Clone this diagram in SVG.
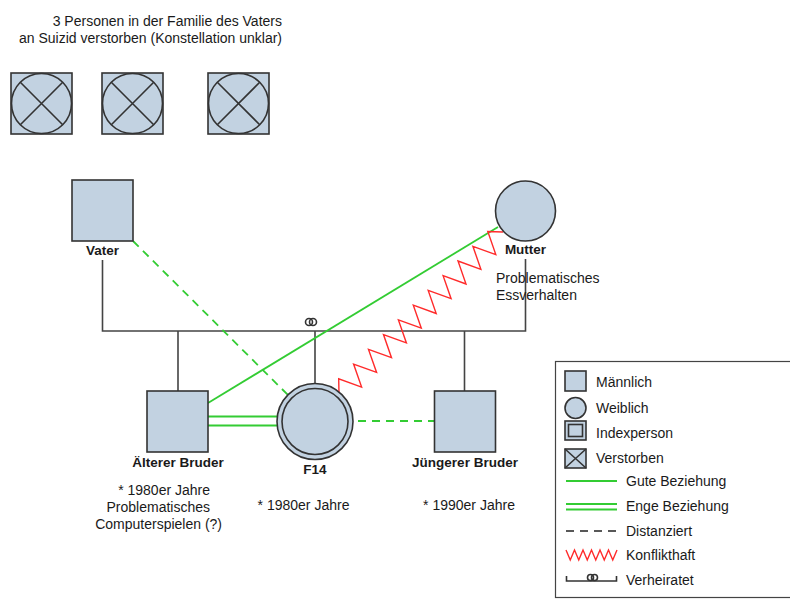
<svg xmlns="http://www.w3.org/2000/svg" width="790" height="599" viewBox="0 0 790 599">
<style>
  text { font-family: "Liberation Sans", Arial, sans-serif; font-size: 14px; fill: #1a1a1a; }
  .b { font-weight: bold; font-size: 13.5px; }
  .node { fill: #c2d2e1; stroke: #333; stroke-width: 1.6; }
  .fam { fill: none; stroke: #444; stroke-width: 1.6; }
  .thin { fill: none; stroke: #333; stroke-width: 1.6; }
  .good { fill: none; stroke: #33cc33; stroke-width: 1.8; }
  .dist { fill: none; stroke: #33cc33; stroke-width: 1.8; stroke-dasharray: 8 6; }
  .conf { fill: none; stroke: #ff2b2b; stroke-width: 1.4; stroke-linejoin: miter; }
</style>
<rect width="790" height="599" fill="#ffffff"/>

<g id="note">
  <text x="282" y="26" text-anchor="end">3 Personen in der Familie des Vaters</text>
  <text x="282" y="43" text-anchor="end">an Suizid verstorben (Konstellation unklar)</text>
</g>

<g id="deceased1">
  <rect class="node" x="11" y="73" width="61" height="61"/>
  <circle class="thin" cx="41.5" cy="103.5" r="30"/>
  <path class="thin" d="M20.3 82.3 L62.7 124.7 M62.7 82.3 L20.3 124.7"/>
</g>
<g id="deceased2">
  <rect class="node" x="102" y="73" width="61" height="61"/>
  <circle class="thin" cx="132.5" cy="103.5" r="30"/>
  <path class="thin" d="M111.3 82.3 L153.7 124.7 M153.7 82.3 L111.3 124.7"/>
</g>
<g id="deceased3">
  <rect class="node" x="208" y="73" width="61" height="61"/>
  <circle class="thin" cx="238.5" cy="103.5" r="30"/>
  <path class="thin" d="M217.3 82.3 L259.7 124.7 M259.7 82.3 L217.3 124.7"/>
</g>

<g id="connectors">
  <path class="fam" d="M102.5 260 V331 H525.5 V259"/>
  <path class="fam" d="M178 331 V391 M315 331 V383 M464.5 331 V391"/>
  <g id="marriage-symbol">
    <circle class="thin" cx="309" cy="322" r="3.5" stroke-width="1.5"/>
    <circle class="thin" cx="313" cy="322" r="3.5" stroke-width="1.5"/>
  </g>
  <line class="dist" x1="133" y1="241" x2="288" y2="395"/>
  <line class="good" x1="498" y1="227" x2="208" y2="403"/>
  <polyline class="conf" points="503,232 487.8,231.5 495.8,254.6 472.9,246.3 480.9,269.3 458,261 466,284 443.1,275.7 451.1,298.7 428.2,290.4 436.2,313.5 413.3,305.2 421.3,328.2 398.4,319.9 406.4,342.9 383.5,334.6 391.5,357.7 368.5,349.4 376.6,372.4 353.6,364.1 361.6,387.1 338.7,378.8 339,394"/>
  <path class="good" d="M208 416.5 H277 M208 425.5 H277"/>
  <line class="dist" x1="358" y1="421" x2="434" y2="421"/>
</g>

<g id="vater">
  <rect class="node" x="72" y="180" width="61" height="61"/>
  <text class="b" x="102.5" y="255" text-anchor="middle">Vater</text>
</g>

<g id="mutter">
  <circle class="node" cx="525.5" cy="211" r="30"/>
  <text class="b" x="525.5" y="254" text-anchor="middle">Mutter</text>
  <text x="496" y="283">Problematisches</text>
  <text x="496" y="300">Essverhalten</text>
</g>

<g id="aelterer-bruder">
  <rect class="node" x="147" y="391" width="61" height="61"/>
  <text class="b" x="178" y="467" text-anchor="middle">Älterer Bruder</text>
  <text x="210" y="495" text-anchor="end">* 1980er Jahre</text>
  <text x="210" y="512" text-anchor="end">Problematisches</text>
  <text x="222" y="529" text-anchor="end">Computerspielen (?)</text>
</g>

<g id="f14">
  <circle class="node" cx="315" cy="421.5" r="38"/>
  <circle class="node" cx="315" cy="421.5" r="33"/>
  <text class="b" x="315" y="474" text-anchor="middle">F14</text>
  <text x="303.5" y="510" text-anchor="middle">* 1980er Jahre</text>
</g>

<g id="juengerer-bruder">
  <rect class="node" x="434.5" y="391" width="61" height="61"/>
  <text class="b" x="465" y="467" text-anchor="middle">Jüngerer Bruder</text>
  <text x="469" y="510" text-anchor="middle">* 1990er Jahre</text>
</g>

<g id="legend">
  <rect x="555.5" y="361.5" width="240" height="236" fill="#fff" stroke="#444" stroke-width="1.2"/>
  <rect class="node" x="565" y="371" width="21" height="20"/>
  <text x="596" y="387">Männlich</text>
  <circle class="node" cx="575.5" cy="408" r="10.5"/>
  <text x="596" y="413">Weiblich</text>
  <rect class="node" x="565" y="421" width="21" height="19"/>
  <rect class="node" x="568.5" y="424.5" width="14" height="12" stroke-width="1.3"/>
  <text x="596" y="438">Indexperson</text>
  <rect class="node" x="565" y="449" width="21" height="19"/>
  <path class="thin" d="M565 449 L586 468 M586 449 L565 468" stroke-width="1.3"/>
  <text x="596" y="463">Verstorben</text>
  <line class="good" x1="566" y1="481" x2="617" y2="481" stroke-width="1.5"/>
  <text x="626" y="486">Gute Beziehung</text>
  <path class="good" d="M566 504 H617 M566 509.5 H617" stroke-width="1.5"/>
  <text x="626" y="511">Enge Beziehung</text>
  <line x1="566" y1="531" x2="617" y2="531" stroke="#222" stroke-width="1.5" stroke-dasharray="8 6"/>
  <text x="626" y="536">Distanziert</text>
  <polyline class="conf" points="566,550 570.25,560 574.5,550 578.75,560 583,550 587.25,560 591.5,550 595.75,560 600,550 604.25,560 608.5,550 612.75,560 617,550"/>
  <text x="626" y="560">Konflikthaft</text>
  <path class="thin" d="M566.5 576 V581 H616.5 V576" stroke-width="1.3"/>
  <circle class="thin" cx="590.5" cy="577.5" r="3" stroke-width="1.3"/>
  <circle class="thin" cx="594.5" cy="577.5" r="3" stroke-width="1.3"/>
  <text x="626" y="585">Verheiratet</text>
</g>
</svg>
